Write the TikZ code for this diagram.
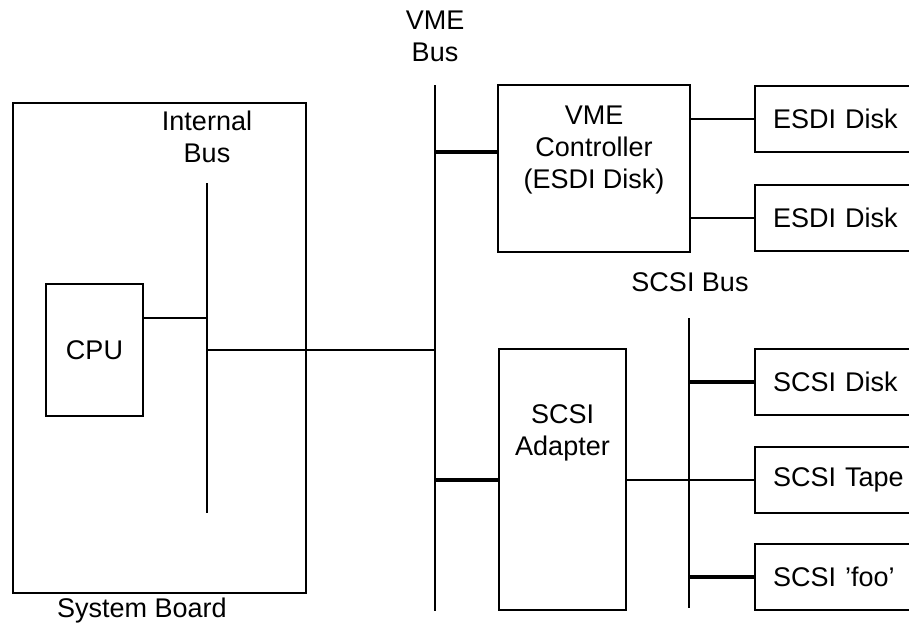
\documentclass[tikz,border=0pt]{standalone}
\usepackage{fontspec}
\setmainfont{Liberation Sans}
\begin{document}
\begin{tikzpicture}[x=0.5pt,y=-0.5pt,line width=1pt,
  font=\fontsize{13.5}{16}\selectfont,
  unit/.style={draw, rectangle, inner sep=0pt},
  dev/.style={draw, rectangle, anchor=west, align=left, text width=77pt, inner xsep=9pt, inner ysep=0pt, minimum height=33pt},
  inlbl/.style={anchor=north, inner sep=0pt, align=center},
  tap/.style={line width=2pt}]
\clip (0,0) rectangle (909,623);
% system board
\node[unit, minimum width=146.5pt, minimum height=245pt] (board) at (159.5,348) {};
\node[anchor=base] (boardlbl) at (142,617) {System Board};
\node[unit, minimum width=48.5pt, minimum height=66pt] (cpu) at (94.5,350) {CPU};
\node[align=center] (iblbl) at (207,136.5) {Internal\\Bus};
\coordinate (ibtop) at (207,183);
\coordinate (ibbot) at (207,513);
\coordinate (ibcpu) at (207,318);
\coordinate (ibvme) at (207,350);
\draw (ibtop) -- (ibbot);
\draw (cpu.east |- ibcpu) -- (ibcpu);
% VME bus
\node[align=center] (vmelbl) at (435,36) {VME\\Bus};
\coordinate (vmetop) at (435,85);
\coordinate (vmebot) at (435,611);
\coordinate (vmectl) at (435,152);
\draw (vmetop) -- (vmebot);
\draw (ibvme) -- (ibvme -| vmetop);
% controller and adapter
\node[unit, minimum width=96pt, minimum height=83.5pt,
  label={[inlbl, yshift=-10.5pt]north:{VME\\Controller\\(ESDI Disk)}}] (ctrl) at (594,168.5) {};
\node[unit, minimum width=63.5pt, minimum height=130.5pt,
  label={[inlbl, yshift=-28pt]north:{SCSI\\Adapter}}] (adapter) at (562.5,479.5) {};
\draw[tap] (vmectl) -- (ctrl.west |- vmectl);
\draw[tap] (adapter.west -| vmetop) -- (adapter.west);
% disks
\node[dev] (esdia) at (754,119) {ESDI Disk};
\node[dev] (esdib) at (754,217.5) {ESDI Disk};
\draw (ctrl.east |- esdia.west) -- (esdia.west);
\draw (ctrl.east |- esdib.west) -- (esdib.west);
% SCSI bus
\node (scsilbl) at (690,282.5) {SCSI Bus};
\coordinate (scsitop) at (689,318);
\coordinate (scsibot) at (689,608);
\draw (scsitop) -- (scsibot);
\node[dev] (sdisk) at (754,381.5) {SCSI Disk};
\node[dev] (tape) at (754,480) {SCSI Tape};
\node[dev] (foo) at (754,576.5) {SCSI 'foo'};
\draw[tap] (sdisk.west -| scsitop) -- (sdisk.west);
\draw (adapter.east) -- (adapter.east -| tape.west);
\draw[tap] (foo.west -| scsitop) -- (foo.west);
\end{tikzpicture}
\end{document}
